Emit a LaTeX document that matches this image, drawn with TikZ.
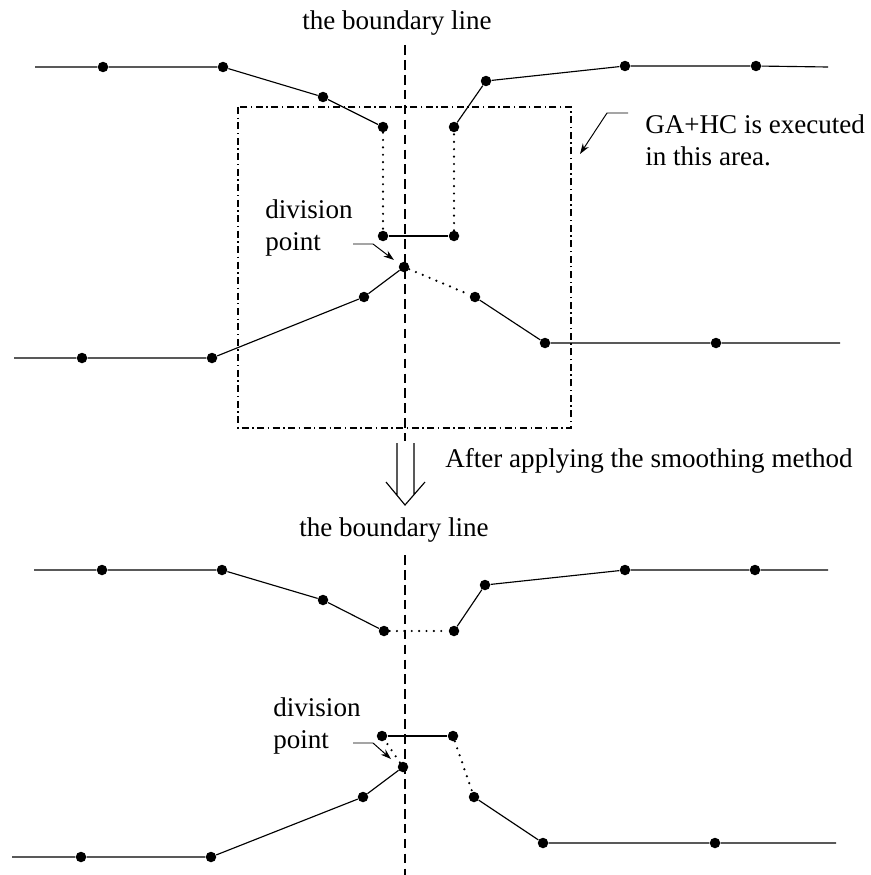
\documentclass[tikz,border=0pt]{standalone}
\usepackage{fontspec}
\setmainfont{Liberation Serif}
\usepackage{tikz}
\usetikzlibrary{positioning, calc, arrows.meta}

\begin{document}
\begin{tikzpicture}[x=0.02cm, y=-0.02cm, >={Stealth[length=6pt, width=4pt]},
  dot/.style={circle, fill=black, inner sep=0pt, minimum size=0.21cm},
  seg/.style={line width=0.65pt},
  dotseg/.style={line width=1.4pt, line cap=round, dash pattern=on 0pt off 4.2pt},
  boundary/.style={line width=0.85pt, dash pattern=on 5.5pt off 3pt},
  areabox/.style={line width=0.65pt, dash pattern=on 4pt off 2pt on 0.8pt off 2pt},
  txt/.style={font=\fontsize{15.4}{18}\selectfont, inner sep=0pt, align=left},
  pointer/.style={->, line width=0.55pt}]
\useasboundingbox (0,0) rectangle (871,875);

% before smoothing
\node[txt, anchor=base] (title1) at (397,30) {the boundary line};
\coordinate (bl1top) at (405,45);
\coordinate (bl1bot) at (405,441);
\draw[boundary] (bl1top) -- (bl1bot);
\draw[areabox] (238,107) rectangle (571,428);

\coordinate (ua0) at (35,67);
\coordinate (ua11) at (828,67);
\foreach \n/\x/\y in {ua1/103/67, ua2/223/67, ua3/323/97, ua4/383/127, ua5/383/236,
  ua6/454/236, ua7/454/127, ua8/486/81, ua9/625/66, ua10/756/66}
  \node[dot] (\n) at (\x,\y) {};
\draw[seg] (ua0) -- (ua1) -- (ua2) -- (ua3) -- (ua4);
\draw[dotseg] (ua4) -- (ua5);
\draw[seg] (ua5) -- (ua6);
\draw[dotseg] (ua6) -- (ua7);
\draw[seg] (ua7) -- (ua8) -- (ua9) -- (ua10) -- (ua11);

\coordinate (la0) at (14,358);
\coordinate (la8) at (840,343);
\foreach \n/\x/\y in {la1/82/358, la2/212/358, la3/364/297, la4/404/267,
  la5/475/297, la6/545/343, la7/716/343}
  \node[dot] (\n) at (\x,\y) {};
\draw[seg] (la0) -- (la1) -- (la2) -- (la3) -- (la4);
\draw[dotseg] (la4) -- (la5);
\draw[seg] (la5) -- (la6) -- (la7) -- (la8);

\node[txt, anchor=base west] (div1) at (265,250) {division\\point};
\coordinate (p1a) at (353,244);
\coordinate (p1b) at (373,244);
\coordinate (p1c) at (394,260);
\draw[pointer] (p1a) -- (p1b) -- (p1c);

\node[txt, anchor=base west] (ga) at (645,165) {GA+HC is executed\\in this area.};
\coordinate (g1a) at (628,113);
\coordinate (g1b) at (607,113);
\coordinate (g1c) at (580,154);
\draw[pointer] (g1a) -- (g1b) -- (g1c);

% smoothing step
\draw[line width=0.65pt] (397,443) -- (397,495) (414,443) -- (414,495)
  (386,482) -- (405,505) -- (425,482);
\node[txt, anchor=base west] (after) at (445,467) {After applying the smoothing method};

% after smoothing
\node[txt, anchor=base] (title2) at (394,536) {the boundary line};
\coordinate (bl2top) at (405,555);
\coordinate (bl2bot) at (405,875);
\draw[boundary] (bl2top) -- (bl2bot);

\coordinate (ub0) at (34,570);
\coordinate (ub9) at (828,570);
\foreach \n/\x/\y in {ub1/102/570, ub2/222/570, ub3/323/600, ub4/384/631,
  ub5/454/631, ub6/485/585, ub7/625/570, ub8/755/570}
  \node[dot] (\n) at (\x,\y) {};
\draw[seg] (ub0) -- (ub1) -- (ub2) -- (ub3) -- (ub4);
\draw[dotseg] (ub4) -- (ub5);
\draw[seg] (ub5) -- (ub6) -- (ub7) -- (ub8) -- (ub9);

\coordinate (lb0) at (12,857);
\coordinate (lb10) at (836,843);
\foreach \n/\x/\y in {lb1/81/857, lb2/211/857, lb3/363/797, lb4/403/767, lb5/382/736,
  lb6/453/736, lb7/474/797, lb8/543/843, lb9/715/843}
  \node[dot] (\n) at (\x,\y) {};
\draw[seg] (lb0) -- (lb1) -- (lb2) -- (lb3) -- (lb4);
\draw[dotseg] (lb4) -- (lb5);
\draw[seg] (lb5) -- (lb6);
\draw[dotseg] (lb6) -- (lb7);
\draw[seg] (lb7) -- (lb8) -- (lb9) -- (lb10);

\node[txt, anchor=base west] (div2) at (273,748) {division\\point};
\coordinate (p2a) at (353,743);
\coordinate (p2b) at (373,743);
\coordinate (p2c) at (391,759);
\draw[pointer] (p2a) -- (p2b) -- (p2c);
\end{tikzpicture}
\end{document}
